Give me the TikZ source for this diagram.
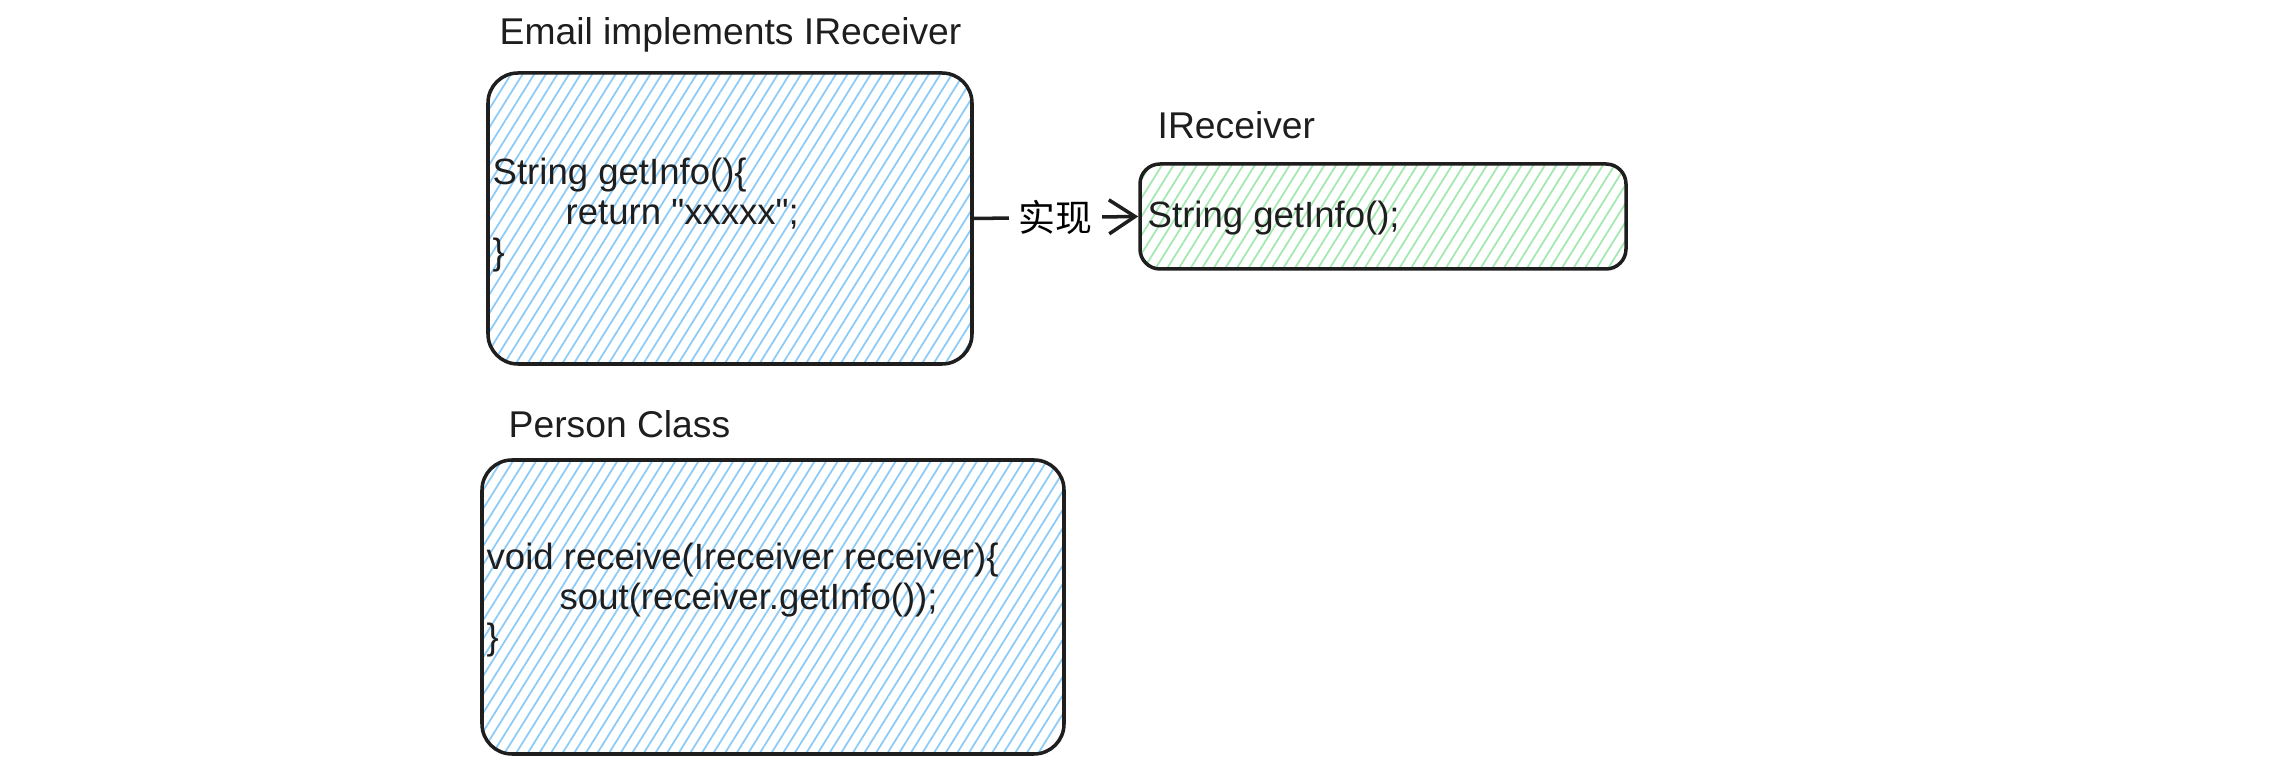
\documentclass[tikz,border=0pt]{standalone}
\usepackage{fontspec}
\setmainfont{Liberation Sans}
\newfontfamily\codefont{Liberation Sans}
\newfontfamily\cjk{Noto Sans CJK SC}
\usetikzlibrary{arrows.meta,patterns.meta}
\definecolor{ink}{HTML}{1E1E1E}
\definecolor{skyhatch}{HTML}{8CCBF7}
\definecolor{minthatch}{HTML}{A3E8B0}

\begin{document}
\begin{tikzpicture}[
  font=\fontsize{10.4}{11.3}\selectfont,
  card/.style={rounded corners=3mm, draw=ink, line width=1pt},
  bluecard/.style={card, pattern={Lines[angle=58,distance=2.8pt,line width=0.5pt]},
                   pattern color=skyhatch},
  greencard/.style={card, pattern={Lines[angle=58,distance=2.8pt,line width=0.5pt]},
                    pattern color=minthatch, rounded corners=2mm},
  heading/.style={font=\fontsize{10.6}{12}\selectfont, text=ink, anchor=west, inner sep=0pt},
  code/.style={font=\codefont\fontsize{10.4}{11.3}\selectfont, text=ink, align=left,
               anchor=west, inner sep=0pt},
  impl/.style={-{Straight Barb[length=2.6mm,width=3.4mm]}, line width=1pt, draw=ink}
]

\fill[white] (0,0) rectangle (22.82,7.62);

\node[heading] (emailtitle) at (4.99,7.27) {Email implements IReceiver};
\node[bluecard, minimum width=4.84cm, minimum height=2.91cm] (email) at (7.30,5.435) {};
\node[code] (emailcode) at (4.92,5.47)
  {String getInfo()\{\\ \hspace*{0.73cm}return "xxxxx";\\ \}};

\node[heading] (recvtitle) at (11.57,6.37) {IReceiver};
\node[greencard, minimum width=4.86cm, minimum height=1.05cm] (recv) at (13.83,5.455) {};
\node[code] (recvcode) at (11.47,5.44) {String getInfo();};

\draw[impl] (email.east) -- node[fill=white, inner sep=1mm, font=\cjk\fontsize{10.5}{12}\selectfont] (impllabel) {实现} (recv.west);

\node[heading] (persontitle) at (5.08,3.38) {Person Class};
\node[bluecard, minimum width=5.82cm, minimum height=2.94cm] (person) at (7.73,1.55) {};
\node[code] (personcode) at (4.86,1.62)
  {void receive(Ireceiver receiver)\{\\ \hspace*{0.73cm}sout(receiver.getInfo());\\ \}};

\end{tikzpicture}
\end{document}
